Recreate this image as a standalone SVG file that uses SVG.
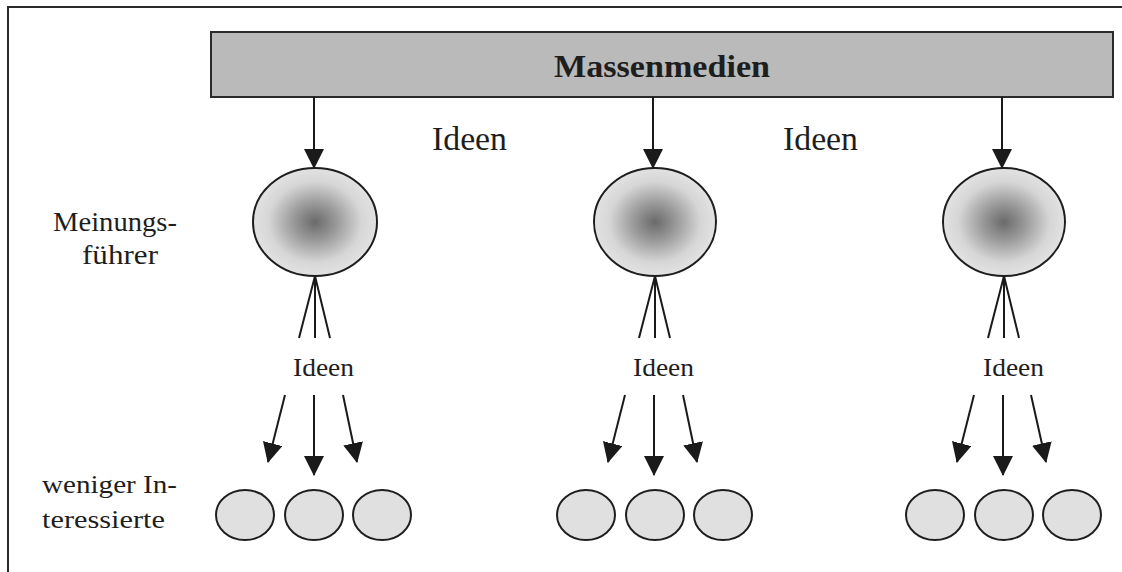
<svg xmlns="http://www.w3.org/2000/svg" width="1122" height="572" viewBox="0 0 1122 572">
  <style>
    .frame { fill: none; stroke: #2a2a2a; stroke-width: 2; }
    .media { fill: #bababa; stroke: #2a2a2a; stroke-width: 2; }
    .leader { fill: url(#leaderShade); stroke: #1e1e1e; stroke-width: 2; }
    .follower { fill: #e0e0e0; stroke: #1e1e1e; stroke-width: 2; }
    .link { fill: none; stroke: #1a1a1a; stroke-width: 2; }
    .arrow { fill: none; stroke: #1a1a1a; stroke-width: 2; marker-end: url(#head); }
    text { font-family: "Liberation Serif", "Times New Roman", serif; fill: #1e1e1e; }
    .title { font-weight: bold; }
  </style>
  <defs>
    <radialGradient id="leaderShade" cx="0.5" cy="0.5" r="0.5">
      <stop offset="0" stop-color="#6a6a6a"/>
      <stop offset="0.35" stop-color="#9a9a9a"/>
      <stop offset="0.75" stop-color="#d6d6d6"/>
      <stop offset="1" stop-color="#e2e2e2"/>
    </radialGradient>
    <marker id="head" markerUnits="userSpaceOnUse" markerWidth="20" markerHeight="20" refX="19" refY="10" orient="auto" viewBox="0 0 20 20">
      <path d="M0,0 L20,10 L0,20 Z" fill="#1a1a1a"/>
    </marker>
  </defs>

  <!-- outer frame: top and left edges only -->
  <path class="frame" d="M8,572 L8,7 L1122,7"/>

  <!-- mass media bar -->
  <g id="massenmedien">
    <rect class="media" x="211" y="32" width="902" height="65"/>
    <text class="title" x="662" y="77" font-size="31" text-anchor="middle" textLength="216" lengthAdjust="spacingAndGlyphs">Massenmedien</text>
  </g>

  <!-- side labels -->
  <g id="label-meinungsfuehrer">
    <text x="53" y="231" font-size="28" textLength="124" lengthAdjust="spacingAndGlyphs">Meinungs-</text>
    <text x="82" y="264" font-size="28" textLength="76" lengthAdjust="spacingAndGlyphs">führer</text>
  </g>
  <g id="label-interessierte">
    <text x="42" y="493" font-size="25" textLength="135" lengthAdjust="spacingAndGlyphs">weniger In-</text>
    <text x="42" y="528" font-size="25" textLength="123" lengthAdjust="spacingAndGlyphs">teressierte</text>
  </g>

  <!-- idea labels between the media arrows -->
  <g id="label-ideen-top">
    <text x="432" y="150" font-size="33" textLength="75" lengthAdjust="spacingAndGlyphs">Ideen</text>
    <text x="783" y="150" font-size="33" textLength="75" lengthAdjust="spacingAndGlyphs">Ideen</text>
  </g>

  <!-- opinion leaders -->
  <g id="leader-1"><ellipse class="leader" cx="315" cy="222" rx="62" ry="54"/></g>
  <g id="leader-2"><ellipse class="leader" cx="655" cy="222" rx="61" ry="54"/></g>
  <g id="leader-3"><ellipse class="leader" cx="1004" cy="222" rx="61" ry="54"/></g>

  <!-- idea labels below the leaders -->
  <g id="label-ideen-low">
    <text x="293" y="376" font-size="26" textLength="61" lengthAdjust="spacingAndGlyphs">Ideen</text>
    <text x="633" y="376" font-size="26" textLength="61" lengthAdjust="spacingAndGlyphs">Ideen</text>
    <text x="983" y="376" font-size="26" textLength="61" lengthAdjust="spacingAndGlyphs">Ideen</text>
  </g>

  <!-- less interested people -->
  <g id="followers-1">
    <ellipse class="follower" cx="245" cy="515" rx="29" ry="25"/>
    <ellipse class="follower" cx="314" cy="515" rx="29" ry="25"/>
    <ellipse class="follower" cx="382" cy="515" rx="29" ry="25"/>
  </g>
  <g id="followers-2">
    <ellipse class="follower" cx="586" cy="515" rx="29" ry="25"/>
    <ellipse class="follower" cx="655" cy="515" rx="29" ry="25"/>
    <ellipse class="follower" cx="723" cy="515" rx="29" ry="25"/>
  </g>
  <g id="followers-3">
    <ellipse class="follower" cx="935" cy="515" rx="29" ry="25"/>
    <ellipse class="follower" cx="1004" cy="515" rx="29" ry="25"/>
    <ellipse class="follower" cx="1072" cy="515" rx="29" ry="25"/>
  </g>

  <!-- connectors -->
  <g id="connectors">
    <!-- media to leaders -->
    <line class="arrow" x1="314" y1="97" x2="314" y2="168"/>
    <line class="arrow" x1="653" y1="97" x2="653" y2="168"/>
    <line class="arrow" x1="1002" y1="97" x2="1002" y2="168"/>

    <!-- fan lines under each leader -->
    <path class="link" d="M315,276 L299,338 M315,276 L315,338 M315,276 L330,338"/>
    <path class="link" d="M655,276 L639,338 M655,276 L655,338 M655,276 L670,338"/>
    <path class="link" d="M1004,276 L988,338 M1004,276 L1004,338 M1004,276 L1019,338"/>

    <!-- leaders to less interested -->
    <line class="arrow" x1="285" y1="395" x2="268" y2="462"/>
    <line class="arrow" x1="314" y1="395" x2="314" y2="475"/>
    <line class="arrow" x1="343" y1="395" x2="357" y2="462"/>

    <line class="arrow" x1="625" y1="395" x2="608" y2="462"/>
    <line class="arrow" x1="654" y1="395" x2="654" y2="475"/>
    <line class="arrow" x1="683" y1="395" x2="697" y2="462"/>

    <line class="arrow" x1="974" y1="395" x2="957" y2="462"/>
    <line class="arrow" x1="1003" y1="395" x2="1003" y2="475"/>
    <line class="arrow" x1="1031" y1="395" x2="1046" y2="462"/>
  </g>
</svg>
